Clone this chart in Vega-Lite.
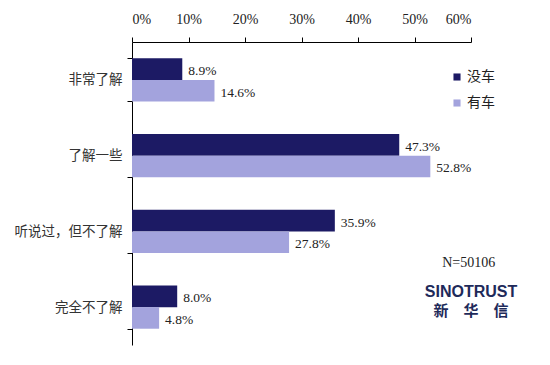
{
  "$schema": "https://vega.github.io/schema/vega-lite/v6.json",
  "width": 339,
  "height": 303,
  "autosize": {"type": "none"},
  "padding": {"left": 132, "top": 42, "right": 79, "bottom": 20},
  "background": "white",
  "config": {"view": {"stroke": null}},
  "datasets": {
    "bars": [
      {"cat": "非常了解", "g": "没车", "v": 0.089},
      {"cat": "非常了解", "g": "有车", "v": 0.146},
      {"cat": "了解一些", "g": "没车", "v": 0.473},
      {"cat": "了解一些", "g": "有车", "v": 0.528},
      {"cat": "听说过，但不了解", "g": "没车", "v": 0.359},
      {"cat": "听说过，但不了解", "g": "有车", "v": 0.278},
      {"cat": "完全不了解", "g": "没车", "v": 0.080},
      {"cat": "完全不了解", "g": "有车", "v": 0.048}
    ],
    "notes": [
      {"cat": "完全不了解", "t": "N=50106"}
    ],
    "logo1": [
      {"cat": "完全不了解", "t": "SINOTRUST"}
    ],
    "logo2": [
      {"cat": "完全不了解", "t": "新　华　信"}
    ]
  },
  "layer": [
    {
      "data": {"name": "bars"},
      "mark": {"type": "bar"},
      "encoding": {
        "y": {
          "field": "cat",
          "type": "nominal",
          "scale": {"domain": ["非常了解", "了解一些", "听说过，但不了解", "完全不了解"], "paddingInner": 0.43, "paddingOuter": 0.215},
          "axis": {
            "title": null,
            "tickBand": "extent",
            "domainColor": "#000",
            "tickColor": "#000",
            "tickSize": 5,
            "labelPadding": 5,
            "labelFont": "Noto Sans CJK SC",
            "labelFontSize": 13.5,
            "labelColor": "#333"
          }
        },
        "yOffset": {"field": "g", "type": "nominal", "scale": {"domain": ["没车", "有车"], "paddingInner": 0, "paddingOuter": 0}},
        "x": {
          "field": "v",
          "type": "quantitative",
          "scale": {"domain": [0, 0.6], "nice": false},
          "axis": {
            "orient": "top",
            "title": null,
            "format": ".0%",
            "values": [0, 0.1, 0.2, 0.3, 0.4, 0.5, 0.6],
            "grid": false,
            "domainColor": "#000",
            "tickColor": "#000",
            "tickSize": 5,
            "labelPadding": 11,
            "labelFont": "Liberation Serif",
            "labelFontSize": 14,
            "labelColor": "#222"
          }
        },
        "color": {
          "field": "g",
          "type": "nominal",
          "scale": {"domain": ["没车", "有车"], "range": ["#1c1a64", "#a3a3dd"]},
          "legend": {
            "title": null,
            "orient": "none",
            "legendX": 318,
            "legendY": 28,
            "symbolType": "square",
            "symbolSize": 50,
            "symbolStrokeWidth": 0,
            "labelFont": "Noto Sans CJK SC",
            "labelFontSize": 14,
            "labelColor": "#222",
            "rowPadding": 12,
            "labelOffset": 3
          }
        }
      }
    },
    {
      "data": {"name": "bars"},
      "mark": {"type": "text", "align": "left", "baseline": "middle", "dx": 6, "dy": 2, "font": "Liberation Serif", "fontSize": 13.5, "color": "#222"},
      "encoding": {
        "y": {"field": "cat", "type": "nominal"},
        "yOffset": {"field": "g", "type": "nominal"},
        "x": {"field": "v", "type": "quantitative"},
        "text": {"field": "v", "type": "quantitative", "format": ".1%"}
      }
    },
    {
      "data": {"name": "notes"},
      "mark": {"type": "text", "align": "center", "baseline": "middle", "dy": -44, "font": "Liberation Serif", "fontSize": 14, "color": "#222"},
      "encoding": {
        "y": {"field": "cat", "type": "nominal"},
        "x": {"datum": 0.596},
        "text": {"field": "t"}
      }
    },
    {
      "data": {"name": "logo1"},
      "mark": {"type": "text", "align": "center", "baseline": "middle", "dy": -15, "font": "Liberation Sans", "fontWeight": "bold", "fontSize": 16, "color": "#1e2a5a"},
      "encoding": {
        "y": {"field": "cat", "type": "nominal"},
        "x": {"datum": 0.6},
        "text": {"field": "t"}
      }
    },
    {
      "data": {"name": "logo2"},
      "mark": {"type": "text", "align": "center", "baseline": "middle", "dy": 4, "font": "Noto Sans CJK SC", "fontWeight": "bold", "fontSize": 15, "color": "#1e2a5a"},
      "encoding": {
        "y": {"field": "cat", "type": "nominal"},
        "x": {"datum": 0.6},
        "text": {"field": "t"}
      }
    }
  ]
}
